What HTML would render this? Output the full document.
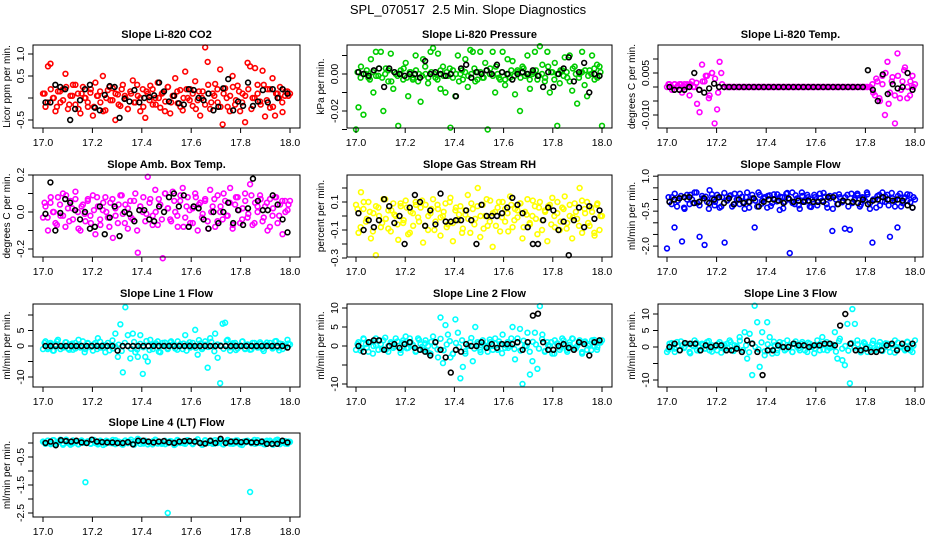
<!DOCTYPE html>
<html><head><meta charset="utf-8"><style>
html,body{margin:0;padding:0;background:#fff;}
svg{display:block;font-family:"Liberation Sans",sans-serif;}
</style></head><body>
<svg id="chart" width="936" height="540" viewBox="0 0 936 540" xmlns="http://www.w3.org/2000/svg">
<text x="468" y="14" text-anchor="middle" font-size="13">SPL_070517&#160; 2.5 Min. Slope Diagnostics</text>
</svg>
<script>
const xTickLabels = ["17.0","17.2","17.4","17.6","17.8","18.0"];
const xTicks = [17.0,17.2,17.4,17.6,17.8,18.0];

const co2Vals = [0.1,-0.2,0.72,0.78,0.0,-0.3,0.15,-0.1,0.2,0.55,-0.25,0.05,0.3,-0.15,0.1,-0.35,0.25,0.0,-0.2,0.12,-0.4,0.35,0.05,-0.1,0.5,-0.28,0.18,-0.05,0.22,-0.5,0.08,-0.18,0.3,0.0,-0.25,0.15,0.4,-0.1,0.05,-0.3,0.2,-0.45,0.1,0.28,-0.15,0.0,0.35,-0.22,0.12,-0.08,0.25,-0.35,0.05,0.45,-0.12,0.18,-0.28,0.6,0.0,0.2,-0.18,0.38,-0.05,-0.4,0.15,1.15,0.82,-0.25,0.1,0.32,-0.1,0.65,-0.6,0.22,-0.2,0.05,0.5,-0.15,0.28,-0.3,0.1,-0.55,0.8,0.72,0.0,0.68,0.3,-0.08,0.62,-0.42,0.2,-0.22,0.45,-0.4,0.1,0.25,-0.32,0.05,0.15,0.1];
const co2Core = [0.1,-0.1,0.2,0.0,-0.2,0.15,-0.05,0.25,-0.15,0.05,0.3,-0.25,0.1,0.0,-0.1,0.2,-0.2,0.05,0.15,-0.3,0.0,0.25,-0.05,0.1,-0.15,0.2,0.05,-0.25,0.1,-0.1,0.3,0.0,-0.2,0.15,-0.05,0.2,-0.15,0.0,0.1,-0.3,0.25,-0.1,0.05,0.15,-0.2,0.0,0.2,-0.05,0.1,-0.25,0.15,0.0,-0.15,0.3,-0.1,0.05,0.2,-0.2,0.1,0.0,-0.3,0.25,-0.05,0.15,-0.1,0.05,0.2,-0.25,0.0,0.1,-0.15,0.3,-0.05,0.2,-0.2,0.1,0.0,-0.1,0.15,0.05];
const co2Black = [-0.1,-0.1,0.3,0.25,0.2,-0.5,-0.25,-0.05,0.2,0.3,-0.22,-0.28,0.07,0.27,0.25,-0.45,-0.02,-0.08,0.18,-0.1,0.0,0.02,0.06,0.35,0.15,-0.08,0.05,-0.12,-0.15,0.2,0.18,0.0,-0.05,0.1,-0.28,-0.2,0.22,0.43,-0.28,-0.08,-0.18,0.35,-0.18,-0.08,0.18,-0.1,0.2,0.0,0.2,0.1];

const presVals = [-0.03,-0.018,0.004,-0.022,0.0,-0.002,0.008,-0.01,0.012,-0.001,0.012,-0.02,0.003,-0.004,0.011,-0.008,0.0,-0.028,0.002,-0.003,0.006,-0.012,0.001,-0.002,0.01,-0.004,-0.015,0.008,0.0,-0.005,0.012,0.014,-0.002,0.011,-0.008,0.004,-0.01,-0.001,-0.029,0.002,-0.012,0.01,0.0,-0.003,0.008,-0.007,0.013,0.012,-0.004,0.001,0.012,-0.002,0.006,-0.03,0.003,0.012,-0.01,0.0,-0.003,0.012,-0.006,0.008,-0.002,0.007,-0.011,0.002,-0.02,0.004,-0.001,0.01,-0.008,0.0,0.012,-0.003,0.015,0.005,-0.004,0.012,-0.01,0.001,0.006,-0.028,-0.005,0.002,0.009,-0.002,0.01,-0.009,0.004,-0.016,0.0,0.012,-0.006,-0.012,0.002,0.01,-0.003,0.005,0.004,-0.028];
const presCore = [0.001,-0.002,0.0,0.002,-0.003,0.001,-0.001,0.003,-0.002,0.0,0.002,-0.004,0.001,-0.001,0.0,0.003,-0.002,0.001,-0.003,0.002,0.0,-0.001,0.004,-0.002,0.001,0.0,-0.003,0.002,-0.001,0.001,0.003,-0.002,0.0,-0.004,0.002,0.001,-0.001,0.0,0.003,-0.003,0.001,-0.002,0.002,0.0,-0.001,0.004,-0.002,0.001,-0.003,0.0,0.002,-0.001,0.001,-0.002,0.003,0.0,-0.003,0.001,0.002,-0.001,0.0,-0.002,0.004,0.001,-0.003,0.0,0.002,-0.001,0.001,-0.004,0.003,0.0,-0.002,0.001,0.002,-0.001,0.0,0.003,-0.002,0.001];
const presBlack = [0.001,0.0,-0.001,0.002,0.003,-0.007,0.003,0.001,0.0,-0.001,0.0,0.0,-0.002,0.007,0.0,0.001,0.0,-0.001,0.0,-0.012,0.003,0.005,-0.002,0.001,0.0,0.002,0.0,0.005,0.001,0.0,-0.003,0.0,0.001,0.0,0.002,-0.001,-0.007,0.001,-0.007,0.0,0.003,0.009,-0.004,0.001,0.006,-0.01,0.0,-0.001];

const tempVals = [0.0,0.001,-0.001,0.001,0.0,0.001,-0.002,0.001,0.0,-0.003,0.002,0.0,-0.006,-0.009,0.008,0.002,0.004,-0.003,0.005,-0.013,-0.008,0.009,0.001,0,0,0,0,0,0,0,0,0,0,0,0,0,0,0,0,0,0,0,0,0,0,0,0,0,0,0,0,0,0,0,0,0,0,0,0,0,0,0,0,0,0,0,0,0,0,0,0,0,0,0,0,0,0,0,0,0,0,0,0.001,-0.003,0.002,-0.005,0.004,-0.01,0.009,-0.002,0.0035,-0.013,0.012,-0.004,0.002,0.007,0.0,-0.003,0.004,0.001];
const tempCore = [0.001,0.0,0.001,0.0005,0.001,0.0,0.001,0.001,0.0,0.0015,-0.001,0.002,0.004,-0.004,0.005,0.003,-0.002,0.005,0,0,0,0,0,0,0,0,0,0,0,0,0,0,0,0,0,0,0,0,0,0,0,0,0,0,0,0,0,0,0,0,0,0,0,0,0,0,0,0,0,0,0,0,0,0,0,0,-0.002,0.003,-0.004,0.001,0.005,-0.006,0.002,-0.003,0.004,-0.001,0.006,-0.004,0.002,0.0];
const tempBlack = [0,-0.001,-0.001,-0.001,0,0.005,-0.001,-0.002,-0.0005,0.0012,0,0,0,0,0,0,0,0,0,0,0,0,0,0,0,0,0,0,0,0,0,0,0,0,0,0,0,0,0,0,0.006,-0.001,-0.005,0.0045,-0.0025,0.001,-0.0005,0,0.005,-0.001];

const ambVals = [-0.03,0.03,-0.1,0.05,0.0,-0.06,0.08,-0.02,0.1,-0.08,0.02,0.06,-0.04,0.11,0.0,-0.1,0.04,-0.05,0.07,-0.02,0.09,-0.12,0.03,-0.07,0.01,0.08,-0.03,0.05,-0.14,0.02,-0.06,0.09,-0.01,0.04,-0.09,0.06,-0.04,0.1,-0.22,0.03,0.0,-0.05,0.19,0.07,-0.02,0.12,-0.07,0.04,-0.25,0.1,0.02,-0.04,0.11,0.0,-0.08,0.06,0.13,-0.03,0.08,-0.06,0.02,0.1,-0.1,0.05,-0.01,0.07,-0.05,0.12,0.03,-0.08,0.09,0.0,-0.04,0.06,-0.02,0.13,-0.09,0.04,0.08,-0.06,0.02,0.1,-0.03,0.15,-0.07,0.05,0.0,0.09,-0.05,0.03,-0.1,0.07,-0.02,0.08,-0.06,0.04,-0.12,0.06,0.01,0.06];
const ambCore = [0.05,-0.03,0.08,0.0,-0.07,0.04,-0.02,0.09,-0.05,0.02,0.07,-0.09,0.03,-0.01,0.06,-0.06,0.01,0.08,-0.04,0.05,0.0,-0.08,0.07,-0.02,0.04,0.09,-0.06,0.02,-0.03,0.06,-0.1,0.03,0.08,-0.01,0.05,-0.07,0.0,0.07,-0.04,0.1,0.02,-0.05,0.06,-0.02,0.09,-0.08,0.03,0.01,-0.06,0.08,0.04,-0.03,0.06,-0.09,0.0,0.07,-0.05,0.03,0.1,-0.02,0.05,-0.07,0.08,0.01,-0.04,0.06,-0.01,0.09,-0.06,0.03,0.07,-0.03,0.05,-0.08,0.02,0.08,-0.02,0.06,0.0,0.04];
const ambBlack = [-0.01,0.16,-0.1,-0.005,0.07,0.05,0.01,-0.04,0.0,-0.09,-0.08,0.03,-0.12,-0.03,0.03,-0.13,0.0,-0.01,-0.05,0.01,0.01,-0.04,-0.05,0.03,0.0,0.08,0.1,0.03,0.09,-0.08,0.03,0.02,-0.04,-0.09,0.0,-0.06,0.0,0.05,-0.06,0.01,-0.07,0.02,0.18,0.06,0.01,0.01,0.09,0.04,-0.04,-0.11];

const rhVals = [0.08,-0.12,0.17,0.05,-0.04,0.1,-0.16,0.02,-0.28,0.06,-0.08,0.12,-0.02,0.04,-0.11,0.09,0.0,-0.17,0.07,-0.05,0.11,-0.13,0.03,-0.07,0.1,-0.01,0.06,-0.19,0.08,-0.1,0.02,0.12,-0.04,0.05,-0.14,0.0,0.09,-0.06,0.13,-0.18,0.04,-0.03,0.07,-0.09,0.01,0.15,-0.12,0.05,-0.02,0.2,-0.15,0.08,0.0,-0.07,0.11,-0.22,0.03,0.06,-0.11,0.1,-0.04,0.02,0.14,-0.08,0.05,-0.01,0.09,-0.16,0.03,0.12,-0.06,0.0,0.07,-0.13,0.1,-0.03,0.04,-0.18,0.08,0.13,-0.08,0.02,-0.1,0.06,0.14,-0.05,0.0,-0.16,0.09,-0.02,0.2,-0.12,0.05,0.1,-0.07,0.03,-0.14,0.08,-0.1,0.0];
const rhCore = [0.05,-0.08,0.1,-0.02,0.03,-0.11,0.07,0.0,-0.05,0.12,-0.09,0.04,0.01,-0.06,0.09,-0.03,0.06,-0.12,0.02,0.08,-0.04,0.11,-0.07,0.0,0.05,-0.1,0.08,-0.01,0.03,-0.08,0.1,-0.05,0.06,0.01,-0.12,0.04,-0.02,0.09,-0.06,0.07,0.0,-0.09,0.12,-0.04,0.02,-0.07,0.1,-0.01,0.05,-0.11,0.08,-0.03,0.04,0.09,-0.08,0.01,-0.05,0.11,-0.02,0.06,-0.1,0.03,0.07,-0.06,0.0,0.1,-0.04,0.05,-0.09,0.08,-0.01,0.03,-0.07,0.11,0.02,-0.05,0.06,-0.12,0.09,0.0];
const rhBlack = [0.02,-0.1,-0.03,-0.08,-0.03,0.12,0.07,-0.05,0.0,-0.2,0.06,0.15,0.1,-0.07,0.04,-0.06,0.16,-0.04,-0.04,-0.03,-0.03,0.04,-0.03,-0.2,0.08,0.0,0.0,0.0,0.02,0.06,0.13,0.08,0.02,-0.08,-0.2,-0.2,-0.03,0.06,0.04,-0.1,-0.04,-0.28,-0.03,0.06,-0.08,0.07,-0.02,0.04];

const sampVals = [-2.1,-0.1,0.1,-1.2,-0.3,0.05,-1.8,-0.4,0.2,-0.2,0.0,0.3,-0.15,-1.6,0.15,-1.95,-0.1,0.4,0.05,-0.25,0.2,-0.35,0.1,-1.85,-0.05,0.15,-0.3,0.25,0.0,-0.2,0.12,-0.4,0.3,-0.1,0.05,-1.2,-0.3,0.2,-0.05,0.1,-0.35,0.18,-0.15,0.0,0.22,-0.45,0.1,-0.1,0.28,-2.3,0.3,-0.2,0.05,-0.4,0.15,-0.1,0.2,-0.3,0.0,0.1,-0.25,0.25,-0.05,0.12,-0.35,0.05,-1.35,0.18,-0.2,0.1,-0.08,-1.25,0.2,-1.3,-0.15,0.05,0.25,-0.3,0.1,-0.05,0.22,-0.4,-1.85,0.0,0.15,-0.25,0.3,-0.1,0.2,-1.6,0.05,-0.3,-1.2,0.25,-0.15,0.1,-0.05,0.2,-0.35,0.0];
const sampCore = [0.1,-0.2,0.25,-0.05,0.15,-0.35,0.0,0.2,-0.15,0.3,-0.25,0.05,0.12,-0.4,0.22,-0.1,0.08,-0.3,0.28,-0.02,0.18,-0.22,0.0,0.25,-0.12,0.1,-0.35,0.2,-0.05,0.3,-0.18,0.05,0.15,-0.28,0.22,-0.08,0.12,-0.38,0.25,0.0,-0.15,0.18,-0.25,0.3,-0.05,0.1,-0.32,0.2,-0.1,0.05,0.28,-0.2,0.15,-0.4,0.0,0.22,-0.12,0.1,-0.3,0.25,-0.02,0.18,-0.22,0.08,0.3,-0.15,0.0,-0.35,0.2,-0.08,0.12,-0.25,0.28,-0.05,0.15,-0.3,0.05,0.22,-0.12,0.1];
const sampBlack = [-0.1,0.0,0.05,0.1,0.1,-0.15,-0.1,0.05,-0.15,0.0,0.1,-0.15,0.05,-0.2,0.0,-0.15,-0.1,0.05,-0.3,-0.1,0.0,0.0,-0.05,-0.15,0.05,-0.1,-0.05,-0.1,-0.05,-0.1,-0.1,-0.1,0.1,0.1,-0.2,-0.05,-0.1,-0.1,-0.15,0.0,-0.2,-0.05,0.0,0.1,0.0,-0.05,0.0,-0.05,-0.25,-0.35];

const l1Vals = [-1,1.5,-0.5,1,-1.5,0.5,2,-1,0,1.2,-0.8,0.5,-1.2,1,0,-0.5,1.5,-1,0.8,0,-1.5,1,2.5,-0.5,0.3,-2,1,0,-0.8,4,-3.5,7,-8.5,12.5,3.5,-4,4,-2,-3.5,3.5,-9,-3.5,-5,2,-1,0.5,1.5,-2,1,0,-1,1.2,0.5,-0.8,1.5,0,-1,3.5,0.5,-0.5,1,5.2,-2.8,0.8,-0.5,1.5,-7,2.5,0,4,-3.8,-12,7.2,7.5,2,-1.5,0.5,1,-0.8,0,1.5,-1,0.5,-1.2,1,0,-0.5,1.2,-1,0.5,0,1,-0.8,1.5,-0.5,0.8,-1,0,2,0.5];
const l1Core = [1,-1,0.5,-1.5,1.5,0,-0.5,1.2,-1.2,0.8,-0.8,2,0,-2,1,-0.3,0.6,-1,1.4,-0.6,0.2,-1.4,1.8,-0.2,0.4,-1.6,1,0,-0.9,1.3,-1.1,0.7,-0.4,1.6,-1.3,0.3,0.9,-1.8,0.1,1.1,-0.7,1.5,-0.1,-1.2,0.6,0.8,-1.5,1.2,0,-0.6,1.9,-1,0.4,-0.3,1.3,-1.7,0.5,0.2,-0.9,1.7,-0.4,0.9,-1.3,0.1,1.4,-0.8,0.3,-1.1,1,-0.2,0.7,-1.6,1.1,0,-0.5,1.6,-1.4,0.6,-0.1,0.8];
const l1Black = [0,0,0,0,0,0,0,0,0,0,0,0,0,0,-1.5,0,0,0,0,0,0,0,0,0,0,0,0,0,0,0,0,0,0,0,0,0,0,0,0,0,0,0,0,0,0,0,0,-0.5];

const l2Vals = [-1,1,-0.5,2,0.5,-1.5,1,0,2,-1,0.5,1.5,-1,0,1,-0.5,2,0,-1,1.5,2.5,-0.5,1,0,-1.5,2,0.5,-1,1.5,0,-2,2.5,1,-3,7.5,-4.5,5.5,3,-3,-2,7,3.5,-8.5,-5.5,-2,0,1,-4,5,0.5,-1,1.5,0,-1.5,1,0,2,-1,0.5,3,-0.5,1,0,5,-3.5,2,4.5,-10,0,3.5,-7.5,-4,3.5,-6,10.5,3,-1.5,1,0,-2,1.5,0.5,-1,2,0,-1.5,1,2,-0.5,0,1.5,-2,1,-1,0.5,1.5,0,-1,1,1.5];
const l2Core = [0.5,-1.2,1.8,-0.4,1,-2,0.2,1.4,-0.8,2.2,-1.5,0.6,-0.1,1.2,-1.8,0.9,-0.6,2,0.3,-1.3,1.6,-0.2,0.7,-1.7,1.1,0,-0.9,1.9,-1.1,0.4,1.3,-2.1,0.8,-0.3,1.5,-1.4,0.1,2.1,-0.7,1,-1.6,0.5,-0.2,1.7,-1,0.6,1.2,-1.9,0.3,-0.5,2,-0.8,0.9,-1.2,1.4,0,-1.5,1.1,0.4,-0.7,1.8,-1.3,0.2,1,-2,0.7,-0.4,1.5,-1,0.3,1.9,-0.6,0.8,-1.6,1.2,0.1,-1.1,1.6,-0.3,0.9];
const l2Black = [0,-1.5,1,1.5,1.5,-1,0,0.5,-0.5,0.5,1,-0.5,-1,-1.5,-2.5,1,-1,-3,-7,-1,-1.5,0.5,0,0,1,-0.5,0.5,-0.5,0.5,0.5,0.5,1,-1,1,8,8.5,1,-1,-1,0,0.5,-0.5,-1,1,0.5,-2.5,1,1.5];

const l3Vals = [-1.5,1,0,-0.5,1.5,-1,0.5,0,1,-1.5,0.5,2,-1,0,1,-0.5,1.5,-1,0.5,0,-1,1.5,0,-0.5,1,2,-1,0.5,0,3,-1.5,4.5,-3.5,4,-8.5,12.5,7.5,-6,4.5,-2.5,7.5,3,-2,0.5,-1,1.5,0,-1,2,0.5,-1.5,1,0,-1,1.5,0.5,-1.5,1,0,-0.5,2,-1,3,0.5,-1,1,0,4.5,-3.5,2.5,-4,-5.5,7,-11,11.5,7,2,-1,0.5,1,-1.5,0,1,-1,0.5,1.5,-1,0,1,-1.5,0.5,2,-0.5,0,1,-1,1.5,0,-1.5,2];
const l3Core = [-0.8,1.2,-1.5,0.4,1.7,-0.3,0.9,-1.9,0.2,1.3,-1.1,0.6,-0.5,1.8,-1.4,0.1,1,-1.7,0.7,-0.2,1.5,-1.2,0.3,1.9,-0.9,0.5,-1.6,1.1,0,-0.7,1.4,-1.3,0.8,-0.1,1.6,-1.8,0.4,1.2,-0.6,0.2,-1.5,1.7,-0.4,0.9,-1,1.3,0.1,-1.9,0.6,1,-0.8,1.5,-0.3,0.7,-1.4,1.8,-0.5,0.3,-1.1,1.2,-0.2,0.8,-1.6,1.4,0,-0.9,1.9,-0.7,0.5,-1.2,1.1,-0.1,0.6,-1.7,1.3,0.2,-0.6,1.6,-1,0.4];
const l3Black = [0,1,-1,1.2,1,1,-1,0.5,0,0.5,0.5,-1,-1,-0.5,-1.5,2,1,-1.5,-8.5,-1,-1,0.5,0,0,1,0.5,0.5,0,0.5,0.5,1,1,0.5,6.5,10,1,-1,-1,-0.5,-1.5,-1.5,-1,0.5,1,-1,1,-0.5,1];

const l4Vals = [0.05,-0.03,0.08,0.0,0.1,-0.05,0.03,0.12,-0.02,0.06,0.0,-0.06,0.09,0.02,-0.04,0.07,0.01,-1.4,0.05,-0.02,0.1,0.0,-0.05,0.08,0.03,-0.03,0.06,0.0,0.11,-0.04,0.04,0.02,-0.06,0.09,0.0,0.05,-0.02,0.07,0.15,-0.03,0.03,0.08,-0.05,0.01,0.06,0.12,-0.02,0.04,0.0,-0.04,-2.5,0.07,0.02,-0.05,0.09,0.0,0.05,-0.03,0.1,0.04,-0.02,0.06,0.13,0.0,-0.06,0.08,0.02,0.05,-0.03,0.1,0.0,0.07,-0.04,0.03,0.11,-0.02,0.06,0.0,0.09,-0.05,0.04,0.02,0.08,-1.75,0.05,-0.03,0.1,0.0,0.06,-0.05,0.03,0.08,-0.02,0.05,0.12,-0.04,0.02,0.07,-0.03,0.04];
const l4Core = [0.02,0.08,-0.04,0.1,0.0,0.05,-0.06,0.12,0.03,-0.02,0.07,-0.05,0.09,0.01,0.06,-0.03,0.11,0.0,0.04,-0.07,0.08,0.02,-0.01,0.1,0.05,-0.04,0.07,0.0,0.12,-0.06,0.03,0.09,-0.02,0.05,0.01,-0.05,0.1,0.04,-0.03,0.08,0.0,0.06,-0.07,0.11,0.02,-0.01,0.09,0.05,-0.04,0.07,0.03,-0.06,0.1,0.0,0.08,-0.02,0.04,0.12,-0.05,0.06,0.01,-0.03,0.09,0.02,-0.07,0.07,0.05,-0.01,0.11,0.0,0.04,-0.04,0.08,0.03,-0.06,0.1,0.02,0.06,-0.02,0.05];
const l4Black = [0.0,0.05,-0.08,0.1,0.07,0.05,0.08,0.02,0.0,0.12,0.05,0.03,0.02,0.02,0.0,0.0,0.03,-0.05,0.08,0.08,0.05,0.02,0.05,0.07,0.02,0.0,0.05,0.07,0.07,0.05,0.0,-0.02,0.08,0.0,0.15,0.0,0.05,0.05,0.03,0.05,0.02,0.02,0.05,-0.03,-0.03,-0.03,0.08,0.02];

const cols = [{L:33,R:300,x0:43,x1:290},{L:347,R:612,x0:356,x1:602},{L:658,R:923,x0:667,x1:915}];
const rows = [{T:45,B:128},{T:175,B:257},{T:304,B:387},{T:433,B:517}];

const panels = [
 {name:"co2",title:"Slope Li-820 CO2",ylab:"Licor ppm per min.",c:0,r:0,color:"#ff0000",vals:co2Vals,core:co2Core,blk:co2Black,zero:98,k:44,ticks:[-0.5,0,0.5,1.0],labels:["-0.5",null,"0.5","1.0"]},
 {name:"pressure",title:"Slope Li-820 Pressure",ylab:"kPa per min.",c:1,r:0,color:"#00cd00",vals:presVals,core:presCore,blk:presBlack,zero:74,k:1850,ticks:[0.01,0,-0.01,-0.02,-0.03],labels:[null,"0.00",null,"-0.02",null]},
 {name:"temp",title:"Slope Li-820 Temp.",ylab:"degrees C per min.",c:2,r:0,color:"#ff00ff",vals:tempVals,core:tempCore,blk:tempBlack,zero:87,k:2800,ticks:[0.01,0.005,0,-0.005,-0.01],labels:[null,"0.005",null,null,"-0.010"]},
 {name:"amb-temp",title:"Slope Amb. Box Temp.",ylab:"degrees C per min.",c:0,r:1,color:"#ff00ff",vals:ambVals,core:ambCore,blk:ambBlack,zero:212,k:185,ticks:[0.2,0.1,0,-0.1,-0.2],labels:["0.2",null,"0.0",null,"-0.2"]},
 {name:"gas-rh",title:"Slope Gas Stream RH",ylab:"percent per min.",c:1,r:1,color:"#ffff00",vals:rhVals,core:rhCore,blk:rhBlack,zero:216,k:140,ticks:[0.2,0.1,0,-0.1,-0.2,-0.3],labels:[null,"0.1",null,"-0.1",null,"-0.3"]},
 {name:"sample-flow",title:"Slope Sample Flow",ylab:"ml/min per min.",c:2,r:1,color:"#0000ff",vals:sampVals,core:sampCore,blk:sampBlack,zero:199.5,k:23.3,ticks:[1,0.5,0,-0.5,-1,-1.5,-2],labels:["1.0",null,null,"-0.5",null,null,"-2.0"]},
 {name:"line1-flow",title:"Slope Line 1 Flow",ylab:"ml/min per min.",c:0,r:2,color:"#00ffff",vals:l1Vals,core:l1Core,blk:l1Black,zero:346,k:3.1,ticks:[10,5,0,-5,-10],labels:[null,"5","0",null,"-10"]},
 {name:"line2-flow",title:"Slope Line 2 Flow",ylab:"ml/min per min.",c:1,r:2,color:"#00ffff",vals:l2Vals,core:l2Core,blk:l2Black,zero:346,k:3.8,ticks:[10,5,0,-5,-10],labels:["10","5","0",null,"-10"]},
 {name:"line3-flow",title:"Slope Line 3 Flow",ylab:"ml/min per min.",c:2,r:2,color:"#00ffff",vals:l3Vals,core:l3Core,blk:l3Black,zero:347,k:3.3,ticks:[10,5,0,-5,-10],labels:["10","5","0",null,"-10"]},
 {name:"line4-flow",title:"Slope Line 4 (LT) Flow",ylab:"ml/min per min.",c:0,r:3,color:"#00ffff",vals:l4Vals,core:l4Core,blk:l4Black,zero:443,k:28,ticks:[0,-0.5,-1,-1.5,-2,-2.5],labels:[null,"-0.5",null,"-1.5",null,"-2.5"]}
];

const NS="http://www.w3.org/2000/svg";
const svg=document.getElementById('chart');
function mk(tag,attrs,parent){const e=document.createElementNS(NS,tag);for(const k in attrs)e.setAttribute(k,attrs[k]);parent.appendChild(e);return e;}

panels.forEach(p=>{
  const col=cols[p.c], row=rows[p.r];
  const xs=t=>col.x0+(t-17)*(col.x1-col.x0);
  const ys=v=>p.zero-v*p.k;
  const g=mk('g',{},svg);
  
  
  const title=mk('text',{x:(col.L+col.R)/2,y:row.T-7,'text-anchor':'middle','font-size':'11','font-weight':'bold'},g);
  title.textContent=p.title;
  
  
  const pts=mk('g',{fill:'none','stroke-width':'1.6'},g);
  
  
  const n=p.vals.length;
  p.vals.forEach((v,i)=>{
    const c=mk('circle',{cx:xs(17+i/(n-1)),cy:ys(v),r:2.4,stroke:p.color},pts);
    
    
  });
  const nc=p.core.length;
  p.core.forEach((v,i)=>{
    const c=mk('circle',{cx:xs(17+(i+0.5)/nc),cy:ys(v),r:2.4,stroke:p.color},pts);
    
    
  });
  const m=p.blk.length;
  p.blk.forEach((v,i)=>{
    const c=mk('circle',{cx:xs(17.01+0.98*i/(m-1)),cy:ys(v),r:2.4,stroke:'#000'},pts);
    
    
  });
  const box=mk('rect',{x:col.L,y:row.T,width:col.R-col.L,height:row.B-row.T,fill:'none',stroke:'#000','stroke-width':'1'},g);
  
  
  const xa=mk('g',{},g);
  
  
  xTicks.forEach((t,i)=>{
    mk('line',{x1:xs(t),x2:xs(t),y1:row.B,y2:row.B+5,stroke:'#000'},xa);
    const tx=mk('text',{x:xs(t),y:row.B+18,'text-anchor':'middle','font-size':'10.5'},xa);
    tx.textContent=xTickLabels[i];
    
    
  });
  const ya=mk('g',{},g);
  
  
  p.ticks.forEach((t,i)=>{
    const y=ys(t);
    mk('line',{x1:col.L-5,x2:col.L,y1:y,y2:y,stroke:'#000'},ya);
    if(p.labels[i]){
      const tx=mk('text',{x:0,y:0,'text-anchor':'middle','font-size':'10.5',transform:`translate(${col.L-9},${y}) rotate(-90)`},ya);
      tx.textContent=p.labels[i];
      
      
    }
  });
  const yl=mk('text',{x:0,y:0,'text-anchor':'middle','font-size':'10',transform:`translate(${col.L-23},${(row.T+row.B)/2}) rotate(-90)`},g);
  yl.textContent=p.ylab;
  
  
});
</script>
</body></html>
